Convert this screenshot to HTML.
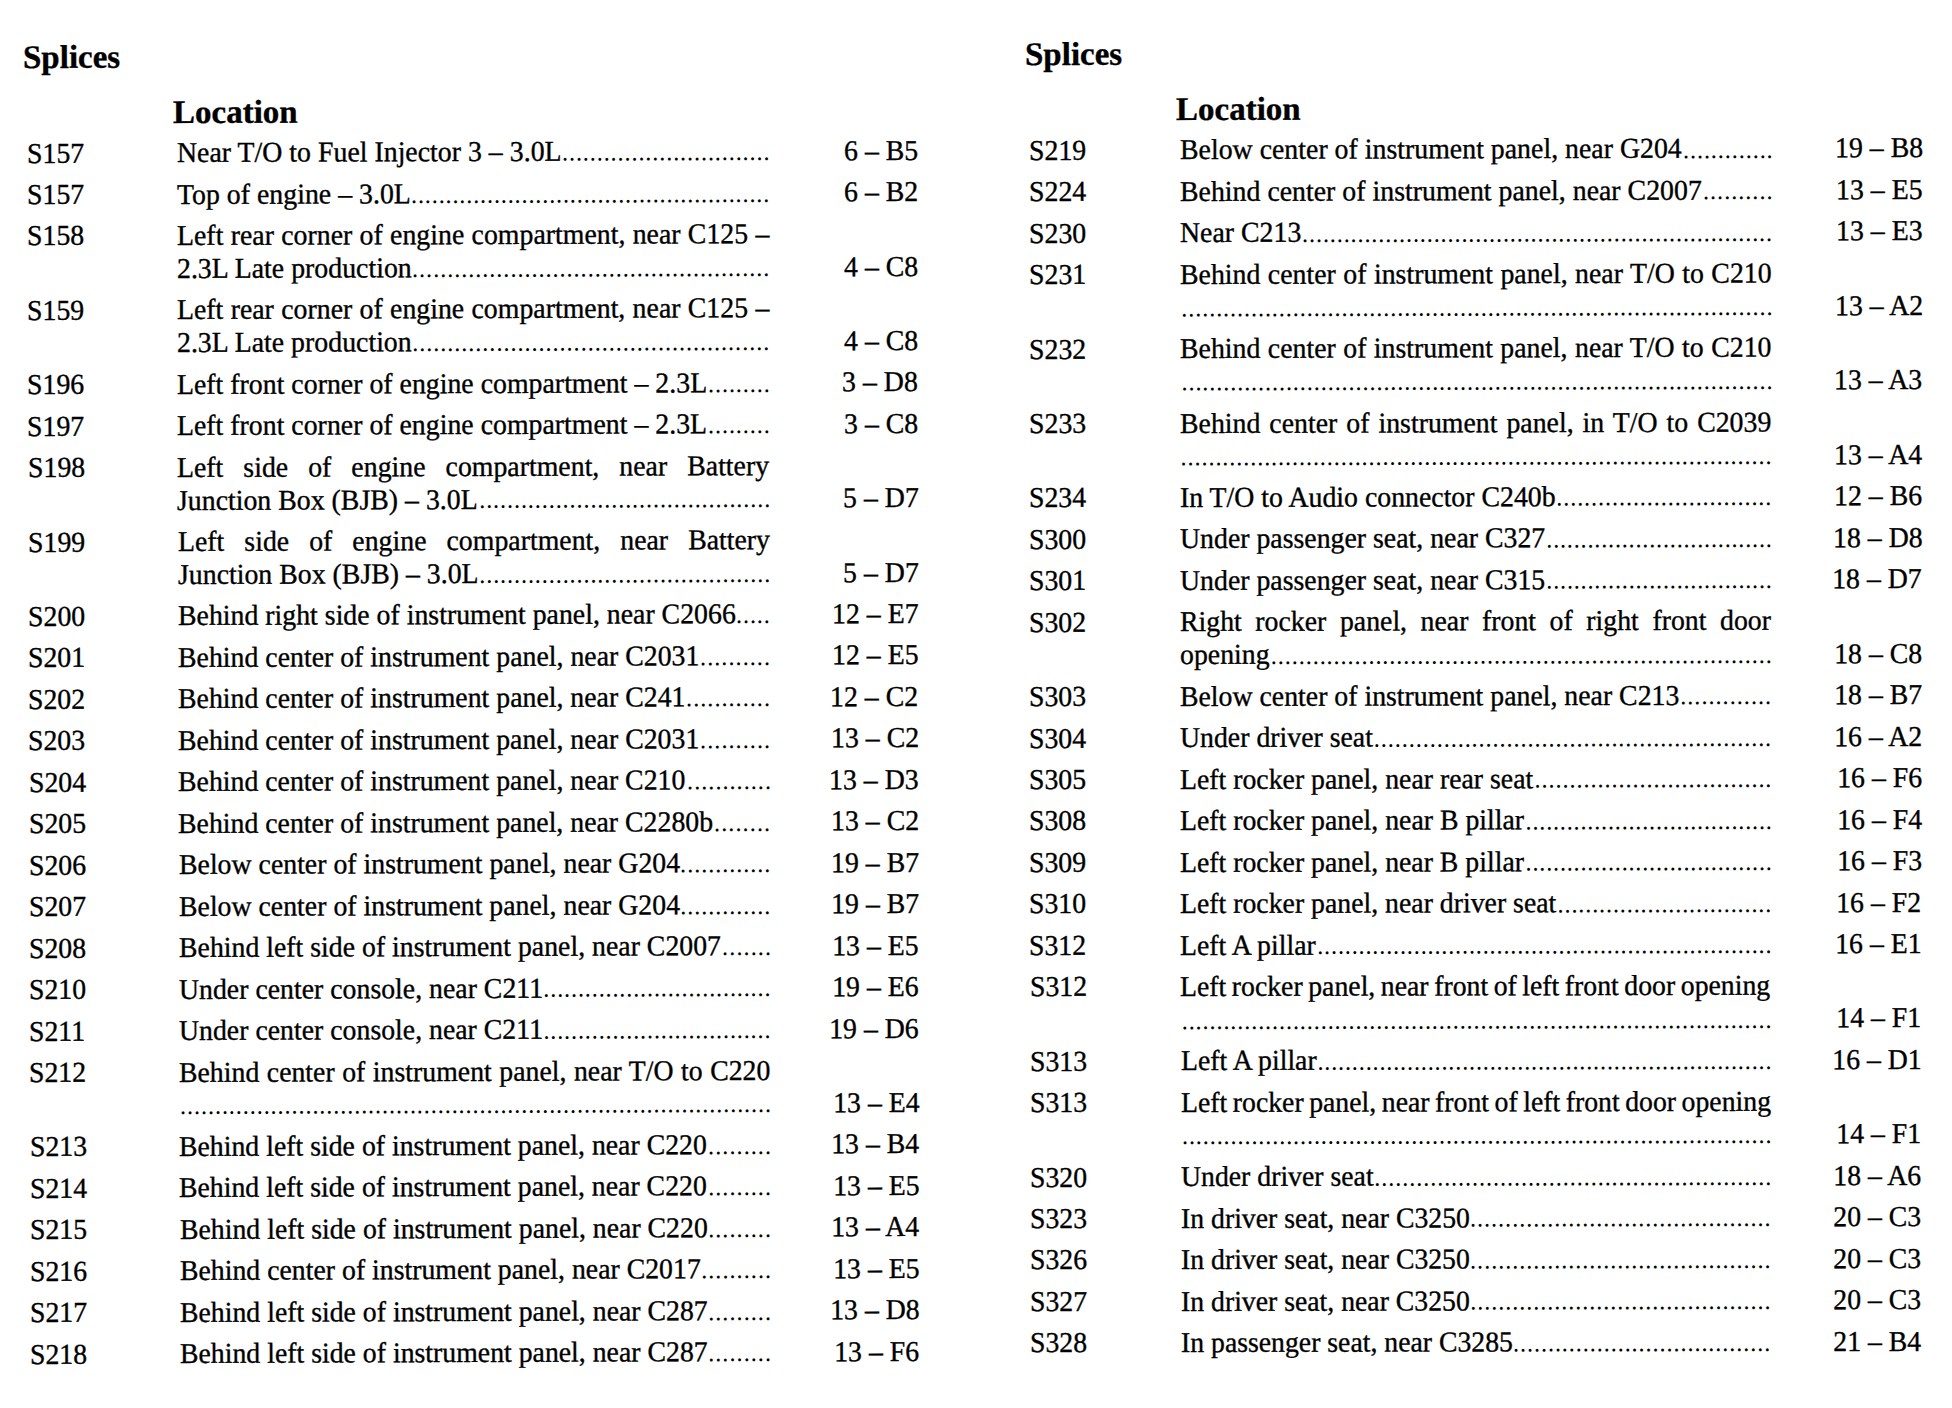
<!DOCTYPE html>
<html lang="en"><head><meta charset="utf-8"><title>Splices</title>
<style>
html,body{margin:0;padding:0;background:#fff;}
body{width:1952px;height:1408px;overflow:hidden;position:relative;color:#000;
 font-family:"Liberation Serif",serif;font-size:27.85px;line-height:1;-webkit-text-stroke:0.35px #000;text-rendering:geometricPrecision;}
.col{position:absolute;left:0;top:0;width:1952px;height:1408px;}
.col span{position:absolute;white-space:nowrap;transform-origin:0 23.32px;}
.col span.e{transform-origin:100% 23.32px;}
.h{font-weight:bold;font-size:33.0px;}
.col span.h{transform-origin:0 27.64px;}
.col span.d{font-size:24.5px;-webkit-text-stroke:0;transform-origin:100% 20.52px;}
</style></head><body>

<div class="col">
<span class="h" style="top:42.33px;left:23.11px;transform:rotate(-0.1752deg) scale(1.00019,1.0);">Splices</span>
<span class="h" style="top:97.36px;left:173.49px;transform:rotate(-0.1763deg) scale(1.00008,1.0);">Location</span>
<div class="row">
<span style="top:140.53px;left:26.60px;transform:rotate(-0.1770deg) scale(1.00000,1.03);">S157</span>
<span style="top:140.07px;left:176.50px;transform:rotate(-0.1770deg) scale(1.00000,1.03);">Near T/O to Fuel Injector 3 – 3.0L</span>
<span class="d e" style="top:141.04px;right:1181.68px;transform:rotate(-0.1770deg) scale(1.00000,1.03);letter-spacing:0.822px;">..............................</span>
<span class="r e" style="top:137.78px;right:1034.10px;transform:rotate(-0.1770deg) scale(1.00000,1.03);">6 – B5</span>
</div>
<div class="row">
<span style="top:182.00px;left:26.73px;transform:rotate(-0.1778deg) scale(0.99992,1.03);">S157</span>
<span style="top:181.53px;left:176.62px;transform:rotate(-0.1778deg) scale(0.99992,1.03);">Top of engine – 3.0L</span>
<span class="d e" style="top:182.50px;right:1181.65px;transform:rotate(-0.1778deg) scale(0.99992,1.03);letter-spacing:0.781px;">....................................................</span>
<span class="r e" style="top:179.23px;right:1034.04px;transform:rotate(-0.1778deg) scale(0.99992,1.03);">6 – B2</span>
</div>
<div class="row">
<span style="top:223.47px;left:26.86px;transform:rotate(-0.1786deg) scale(0.99984,1.03);">S158</span>
<span style="top:223.00px;left:176.73px;transform:rotate(-0.1786deg) scale(0.99984,1.03);word-spacing:0.328px;">Left rear corner of engine compartment, near C125 –</span>
<span style="top:255.90px;left:176.83px;transform:rotate(-0.1793deg) scale(0.99978,1.03);">2.3L Late production</span>
<span class="d e" style="top:256.85px;right:1181.41px;transform:rotate(-0.1793deg) scale(0.99978,1.03);letter-spacing:0.899px;">...................................................</span>
<span class="r e" style="top:253.58px;right:1033.94px;transform:rotate(-0.1793deg) scale(0.99978,1.03);">4 – C8</span>
</div>
<div class="row">
<span style="top:297.84px;left:27.09px;transform:rotate(-0.1800deg) scale(0.99970,1.03);">S159</span>
<span style="top:297.37px;left:176.95px;transform:rotate(-0.1800deg) scale(0.99970,1.03);word-spacing:0.328px;">Left rear corner of engine compartment, near C125 –</span>
<span style="top:330.27px;left:177.04px;transform:rotate(-0.1807deg) scale(0.99963,1.03);">2.3L Late production</span>
<span class="d e" style="top:331.20px;right:1181.29px;transform:rotate(-0.1807deg) scale(0.99963,1.03);letter-spacing:0.899px;">...................................................</span>
<span class="r e" style="top:327.93px;right:1033.84px;transform:rotate(-0.1807deg) scale(0.99963,1.03);">4 – C8</span>
</div>
<div class="row">
<span style="top:372.21px;left:27.32px;transform:rotate(-0.1815deg) scale(0.99955,1.03);">S196</span>
<span style="top:371.73px;left:177.16px;transform:rotate(-0.1815deg) scale(0.99955,1.03);">Left front corner of engine compartment – 2.3L</span>
<span class="d e" style="top:372.66px;right:1181.28px;transform:rotate(-0.1815deg) scale(0.99955,1.03);letter-spacing:0.832px;">.........</span>
<span class="r e" style="top:369.39px;right:1033.78px;transform:rotate(-0.1815deg) scale(0.99955,1.03);">3 – D8</span>
</div>
<div class="row">
<span style="top:413.68px;left:27.45px;transform:rotate(-0.1823deg) scale(0.99947,1.03);">S197</span>
<span style="top:413.20px;left:177.27px;transform:rotate(-0.1823deg) scale(0.99947,1.03);">Left front corner of engine compartment – 2.3L</span>
<span class="d e" style="top:414.12px;right:1181.21px;transform:rotate(-0.1823deg) scale(0.99947,1.03);letter-spacing:0.832px;">.........</span>
<span class="r e" style="top:410.85px;right:1033.72px;transform:rotate(-0.1823deg) scale(0.99947,1.03);">3 – C8</span>
</div>
<div class="row">
<span style="top:455.15px;left:27.58px;transform:rotate(-0.1831deg) scale(0.99939,1.03);">S198</span>
<span style="top:454.67px;left:177.39px;transform:rotate(-0.1831deg) scale(0.99939,1.03);word-spacing:13.060px;">Left side of engine compartment, near Battery</span>
<span style="top:487.57px;left:177.48px;transform:rotate(-0.1837deg) scale(0.99932,1.03);">Junction Box (BJB) – 3.0L</span>
<span class="d e" style="top:488.47px;right:1181.09px;transform:rotate(-0.1837deg) scale(0.99932,1.03);letter-spacing:0.830px;">..........................................</span>
<span class="r e" style="top:485.19px;right:1033.62px;transform:rotate(-0.1837deg) scale(0.99932,1.03);">5 – D7</span>
</div>
<div class="row">
<span style="top:529.52px;left:27.82px;transform:rotate(-0.1845deg) scale(0.99924,1.03);">S199</span>
<span style="top:529.04px;left:177.60px;transform:rotate(-0.1845deg) scale(0.99924,1.03);word-spacing:13.060px;">Left side of engine compartment, near Battery</span>
<span style="top:561.94px;left:177.69px;transform:rotate(-0.1851deg) scale(0.99918,1.03);">Junction Box (BJB) – 3.0L</span>
<span class="d e" style="top:562.82px;right:1180.97px;transform:rotate(-0.1851deg) scale(0.99918,1.03);letter-spacing:0.830px;">..........................................</span>
<span class="r e" style="top:559.54px;right:1033.52px;transform:rotate(-0.1851deg) scale(0.99918,1.03);">5 – D7</span>
</div>
<div class="row">
<span style="top:603.89px;left:28.05px;transform:rotate(-0.1859deg) scale(0.99910,1.03);">S200</span>
<span style="top:603.40px;left:177.81px;transform:rotate(-0.1859deg) scale(0.99910,1.03);">Behind right side of instrument panel, near C2066</span>
<span class="d e" style="top:604.28px;right:1180.92px;transform:rotate(-0.1859deg) scale(0.99910,1.03);letter-spacing:0.809px;">.....</span>
<span class="r e" style="top:601.00px;right:1033.46px;transform:rotate(-0.1859deg) scale(0.99910,1.03);">12 – E7</span>
</div>
<div class="row">
<span style="top:645.36px;left:28.18px;transform:rotate(-0.1867deg) scale(0.99901,1.03);">S201</span>
<span style="top:644.87px;left:177.93px;transform:rotate(-0.1867deg) scale(0.99901,1.03);">Behind center of instrument panel, near C2031</span>
<span class="d e" style="top:645.74px;right:1180.68px;transform:rotate(-0.1867deg) scale(0.99901,1.03);letter-spacing:0.983px;">..........</span>
<span class="r e" style="top:642.46px;right:1033.41px;transform:rotate(-0.1867deg) scale(0.99901,1.03);">12 – E5</span>
</div>
<div class="row">
<span style="top:686.83px;left:28.31px;transform:rotate(-0.1875deg) scale(0.99893,1.03);">S202</span>
<span style="top:686.34px;left:178.05px;transform:rotate(-0.1875deg) scale(0.99893,1.03);">Behind center of instrument panel, near C241</span>
<span class="d e" style="top:687.20px;right:1180.63px;transform:rotate(-0.1875deg) scale(0.99893,1.03);letter-spacing:0.958px;">............</span>
<span class="r e" style="top:683.92px;right:1033.35px;transform:rotate(-0.1875deg) scale(0.99893,1.03);">12 – C2</span>
</div>
<div class="row">
<span style="top:728.30px;left:28.44px;transform:rotate(-0.1883deg) scale(0.99885,1.03);">S203</span>
<span style="top:727.81px;left:178.16px;transform:rotate(-0.1883deg) scale(0.99885,1.03);">Behind center of instrument panel, near C2031</span>
<span class="d e" style="top:728.66px;right:1180.54px;transform:rotate(-0.1883deg) scale(0.99885,1.03);letter-spacing:0.983px;">..........</span>
<span class="r e" style="top:725.37px;right:1033.29px;transform:rotate(-0.1883deg) scale(0.99885,1.03);">13 – C2</span>
</div>
<div class="row">
<span style="top:769.77px;left:28.57px;transform:rotate(-0.1891deg) scale(0.99877,1.03);">S204</span>
<span style="top:769.28px;left:178.28px;transform:rotate(-0.1891deg) scale(0.99877,1.03);">Behind center of instrument panel, near C210</span>
<span class="d e" style="top:770.12px;right:1180.50px;transform:rotate(-0.1891deg) scale(0.99877,1.03);letter-spacing:0.958px;">............</span>
<span class="r e" style="top:766.83px;right:1033.24px;transform:rotate(-0.1891deg) scale(0.99877,1.03);">13 – D3</span>
</div>
<div class="row">
<span style="top:811.24px;left:28.70px;transform:rotate(-0.1899deg) scale(0.99869,1.03);">S205</span>
<span style="top:810.74px;left:178.40px;transform:rotate(-0.1899deg) scale(0.99869,1.03);">Behind center of instrument panel, near C2280b</span>
<span class="d e" style="top:811.58px;right:1180.37px;transform:rotate(-0.1899deg) scale(0.99869,1.03);letter-spacing:1.020px;">........</span>
<span class="r e" style="top:808.29px;right:1033.18px;transform:rotate(-0.1899deg) scale(0.99869,1.03);">13 – C2</span>
</div>
<div class="row">
<span style="top:852.71px;left:28.83px;transform:rotate(-0.1907deg) scale(0.99861,1.03);">S206</span>
<span style="top:852.21px;left:178.52px;transform:rotate(-0.1907deg) scale(0.99861,1.03);">Below center of instrument panel, near G204</span>
<span class="d e" style="top:853.04px;right:1180.43px;transform:rotate(-0.1907deg) scale(0.99861,1.03);letter-spacing:0.889px;">.............</span>
<span class="r e" style="top:849.75px;right:1033.12px;transform:rotate(-0.1907deg) scale(0.99861,1.03);">19 – B7</span>
</div>
<div class="row">
<span style="top:894.18px;left:28.95px;transform:rotate(-0.1915deg) scale(0.99853,1.03);">S207</span>
<span style="top:893.68px;left:178.63px;transform:rotate(-0.1915deg) scale(0.99853,1.03);">Below center of instrument panel, near G204</span>
<span class="d e" style="top:894.50px;right:1180.36px;transform:rotate(-0.1915deg) scale(0.99853,1.03);letter-spacing:0.889px;">.............</span>
<span class="r e" style="top:891.21px;right:1033.06px;transform:rotate(-0.1915deg) scale(0.99853,1.03);">19 – B7</span>
</div>
<div class="row">
<span style="top:935.65px;left:29.08px;transform:rotate(-0.1923deg) scale(0.99844,1.03);">S208</span>
<span style="top:935.15px;left:178.75px;transform:rotate(-0.1923deg) scale(0.99844,1.03);">Behind left side of instrument panel, near C2007</span>
<span class="d e" style="top:935.96px;right:1180.14px;transform:rotate(-0.1923deg) scale(0.99844,1.03);letter-spacing:1.040px;">.......</span>
<span class="r e" style="top:932.66px;right:1033.01px;transform:rotate(-0.1923deg) scale(0.99844,1.03);">13 – E5</span>
</div>
<div class="row">
<span style="top:977.12px;left:29.21px;transform:rotate(-0.1930deg) scale(0.99836,1.03);">S210</span>
<span style="top:976.62px;left:178.87px;transform:rotate(-0.1930deg) scale(0.99836,1.03);">Under center console, near C211</span>
<span class="d e" style="top:977.42px;right:1180.31px;transform:rotate(-0.1930deg) scale(0.99836,1.03);letter-spacing:0.794px;">.................................</span>
<span class="r e" style="top:974.12px;right:1032.95px;transform:rotate(-0.1930deg) scale(0.99836,1.03);">19 – E6</span>
</div>
<div class="row">
<span style="top:1018.59px;left:29.34px;transform:rotate(-0.1938deg) scale(0.99828,1.03);">S211</span>
<span style="top:1018.08px;left:178.98px;transform:rotate(-0.1938deg) scale(0.99828,1.03);">Under center console, near C211</span>
<span class="d e" style="top:1018.88px;right:1180.25px;transform:rotate(-0.1938deg) scale(0.99828,1.03);letter-spacing:0.794px;">.................................</span>
<span class="r e" style="top:1015.58px;right:1032.89px;transform:rotate(-0.1938deg) scale(0.99828,1.03);">19 – D6</span>
</div>
<div class="row">
<span style="top:1060.06px;left:29.47px;transform:rotate(-0.1946deg) scale(0.99820,1.03);">S212</span>
<span style="top:1059.55px;left:179.10px;transform:rotate(-0.1946deg) scale(0.99820,1.03);word-spacing:0.570px;">Behind center of instrument panel, near T/O to C220</span>
<span class="d e" style="top:1093.24px;right:1180.06px;transform:rotate(-0.1953deg) scale(0.99813,1.03);letter-spacing:0.851px;">.....................................................................................</span>
<span class="r e" style="top:1089.93px;right:1032.79px;transform:rotate(-0.1953deg) scale(0.99813,1.03);">13 – E4</span>
</div>
<div class="row">
<span style="top:1134.43px;left:29.71px;transform:rotate(-0.1961deg) scale(0.99805,1.03);">S213</span>
<span style="top:1133.92px;left:179.31px;transform:rotate(-0.1961deg) scale(0.99805,1.03);">Behind left side of instrument panel, near C220</span>
<span class="d e" style="top:1134.69px;right:1179.85px;transform:rotate(-0.1961deg) scale(0.99805,1.03);letter-spacing:0.995px;">.........</span>
<span class="r e" style="top:1131.39px;right:1032.74px;transform:rotate(-0.1961deg) scale(0.99805,1.03);">13 – B4</span>
</div>
<div class="row">
<span style="top:1175.90px;left:29.83px;transform:rotate(-0.1969deg) scale(0.99797,1.03);">S214</span>
<span style="top:1175.39px;left:179.43px;transform:rotate(-0.1969deg) scale(0.99797,1.03);">Behind left side of instrument panel, near C220</span>
<span class="d e" style="top:1176.15px;right:1179.78px;transform:rotate(-0.1969deg) scale(0.99797,1.03);letter-spacing:0.995px;">.........</span>
<span class="r e" style="top:1172.84px;right:1032.68px;transform:rotate(-0.1969deg) scale(0.99797,1.03);">13 – E5</span>
</div>
<div class="row">
<span style="top:1217.37px;left:29.96px;transform:rotate(-0.1977deg) scale(0.99789,1.03);">S215</span>
<span style="top:1216.85px;left:179.55px;transform:rotate(-0.1977deg) scale(0.99789,1.03);">Behind left side of instrument panel, near C220</span>
<span class="d e" style="top:1217.61px;right:1179.71px;transform:rotate(-0.1977deg) scale(0.99789,1.03);letter-spacing:0.995px;">.........</span>
<span class="r e" style="top:1214.30px;right:1032.62px;transform:rotate(-0.1977deg) scale(0.99789,1.03);">13 – A4</span>
</div>
<div class="row">
<span style="top:1258.84px;left:30.09px;transform:rotate(-0.1984deg) scale(0.99781,1.03);">S216</span>
<span style="top:1258.32px;left:179.66px;transform:rotate(-0.1984deg) scale(0.99781,1.03);">Behind center of instrument panel, near C2017</span>
<span class="d e" style="top:1259.07px;right:1179.66px;transform:rotate(-0.1984deg) scale(0.99781,1.03);letter-spacing:0.983px;">..........</span>
<span class="r e" style="top:1255.76px;right:1032.56px;transform:rotate(-0.1984deg) scale(0.99781,1.03);">13 – E5</span>
</div>
<div class="row">
<span style="top:1300.31px;left:30.22px;transform:rotate(-0.1992deg) scale(0.99773,1.03);">S217</span>
<span style="top:1299.79px;left:179.78px;transform:rotate(-0.1992deg) scale(0.99773,1.03);">Behind left side of instrument panel, near C287</span>
<span class="d e" style="top:1300.53px;right:1179.58px;transform:rotate(-0.1992deg) scale(0.99773,1.03);letter-spacing:0.995px;">.........</span>
<span class="r e" style="top:1297.22px;right:1032.51px;transform:rotate(-0.1992deg) scale(0.99773,1.03);">13 – D8</span>
</div>
<div class="row">
<span style="top:1341.78px;left:30.35px;transform:rotate(-0.2000deg) scale(0.99765,1.03);">S218</span>
<span style="top:1341.26px;left:179.90px;transform:rotate(-0.2000deg) scale(0.99765,1.03);">Behind left side of instrument panel, near C287</span>
<span class="d e" style="top:1341.99px;right:1179.51px;transform:rotate(-0.2000deg) scale(0.99765,1.03);letter-spacing:0.995px;">.........</span>
<span class="r e" style="top:1338.68px;right:1032.45px;transform:rotate(-0.2000deg) scale(0.99765,1.03);">13 – F6</span>
</div>
</div>
<div class="col">
<span class="h" style="top:39.32px;left:1024.90px;transform:rotate(-0.1473deg) scale(1.00032,1.0);">Splices</span>
<span class="h" style="top:94.24px;left:1176.28px;transform:rotate(-0.1456deg) scale(1.00013,1.0);">Location</span>
<div class="row">
<span style="top:137.73px;left:1028.60px;transform:rotate(-0.1444deg) scale(1.00000,1.03);">S219</span>
<span style="top:137.35px;left:1180.00px;transform:rotate(-0.1444deg) scale(1.00000,1.03);">Below center of instrument panel, near G204</span>
<span class="d e" style="top:138.66px;right:178.76px;transform:rotate(-0.1444deg) scale(1.00000,1.03);letter-spacing:0.843px;">.............</span>
<span class="r e" style="top:135.48px;right:29.00px;transform:rotate(-0.1444deg) scale(1.00000,1.03);">19 – B8</span>
</div>
<div class="row">
<span style="top:179.20px;left:1028.65px;transform:rotate(-0.1430deg) scale(0.99986,1.03);">S224</span>
<span style="top:178.82px;left:1180.02px;transform:rotate(-0.1430deg) scale(0.99986,1.03);">Behind center of instrument panel, near C2007</span>
<span class="d e" style="top:180.15px;right:178.74px;transform:rotate(-0.1430deg) scale(0.99986,1.03);letter-spacing:0.923px;">..........</span>
<span class="r e" style="top:176.97px;right:29.08px;transform:rotate(-0.1430deg) scale(0.99986,1.03);">13 – E5</span>
</div>
<div class="row">
<span style="top:220.67px;left:1028.69px;transform:rotate(-0.1417deg) scale(0.99973,1.03);">S230</span>
<span style="top:220.29px;left:1180.05px;transform:rotate(-0.1417deg) scale(0.99973,1.03);">Near C213</span>
<span class="d e" style="top:221.63px;right:178.91px;transform:rotate(-0.1417deg) scale(0.99973,1.03);letter-spacing:0.801px;">....................................................................</span>
<span class="r e" style="top:218.46px;right:29.16px;transform:rotate(-0.1417deg) scale(0.99973,1.03);">13 – E3</span>
</div>
<div class="row">
<span style="top:262.14px;left:1028.74px;transform:rotate(-0.1404deg) scale(0.99959,1.03);">S231</span>
<span style="top:261.77px;left:1180.07px;transform:rotate(-0.1404deg) scale(0.99959,1.03);word-spacing:0.495px;">Behind center of instrument panel, near T/O to C210</span>
<span class="d e" style="top:296.03px;right:178.97px;transform:rotate(-0.1393deg) scale(0.99948,1.03);letter-spacing:0.844px;">.....................................................................................</span>
<span class="r e" style="top:292.86px;right:29.30px;transform:rotate(-0.1393deg) scale(0.99948,1.03);">13 – A2</span>
</div>
<div class="row">
<span style="top:336.51px;left:1028.82px;transform:rotate(-0.1380deg) scale(0.99934,1.03);">S232</span>
<span style="top:336.14px;left:1180.12px;transform:rotate(-0.1380deg) scale(0.99934,1.03);word-spacing:0.495px;">Behind center of instrument panel, near T/O to C210</span>
<span class="d e" style="top:370.44px;right:179.08px;transform:rotate(-0.1370deg) scale(0.99923,1.03);letter-spacing:0.844px;">.....................................................................................</span>
<span class="r e" style="top:367.27px;right:29.44px;transform:rotate(-0.1370deg) scale(0.99923,1.03);">13 – A3</span>
</div>
<div class="row">
<span style="top:410.88px;left:1028.90px;transform:rotate(-0.1357deg) scale(0.99909,1.03);">S233</span>
<span style="top:410.52px;left:1180.16px;transform:rotate(-0.1357deg) scale(0.99909,1.03);word-spacing:2.036px;">Behind center of instrument panel, in T/O to C2039</span>
<span class="d e" style="top:444.84px;right:179.18px;transform:rotate(-0.1346deg) scale(0.99898,1.03);letter-spacing:0.844px;">.....................................................................................</span>
<span class="r e" style="top:441.68px;right:29.58px;transform:rotate(-0.1346deg) scale(0.99898,1.03);">13 – A4</span>
</div>
<div class="row">
<span style="top:485.25px;left:1028.98px;transform:rotate(-0.1333deg) scale(0.99884,1.03);">S234</span>
<span style="top:484.90px;left:1180.20px;transform:rotate(-0.1333deg) scale(0.99884,1.03);">In T/O to Audio connector C240b</span>
<span class="d e" style="top:486.32px;right:179.23px;transform:rotate(-0.1333deg) scale(0.99884,1.03);letter-spacing:0.852px;">...............................</span>
<span class="r e" style="top:483.17px;right:29.66px;transform:rotate(-0.1333deg) scale(0.99884,1.03);">12 – B6</span>
</div>
<div class="row">
<span style="top:526.72px;left:1029.03px;transform:rotate(-0.1320deg) scale(0.99871,1.03);">S300</span>
<span style="top:526.37px;left:1180.23px;transform:rotate(-0.1320deg) scale(0.99871,1.03);">Under passenger seat, near C327</span>
<span class="d e" style="top:527.81px;right:179.40px;transform:rotate(-0.1320deg) scale(0.99871,1.03);letter-spacing:0.744px;">.................................</span>
<span class="r e" style="top:524.66px;right:29.73px;transform:rotate(-0.1320deg) scale(0.99871,1.03);">18 – D8</span>
</div>
<div class="row">
<span style="top:568.19px;left:1029.07px;transform:rotate(-0.1306deg) scale(0.99857,1.03);">S301</span>
<span style="top:567.84px;left:1180.25px;transform:rotate(-0.1306deg) scale(0.99857,1.03);">Under passenger seat, near C315</span>
<span class="d e" style="top:569.30px;right:179.45px;transform:rotate(-0.1306deg) scale(0.99857,1.03);letter-spacing:0.744px;">.................................</span>
<span class="r e" style="top:566.15px;right:29.81px;transform:rotate(-0.1306deg) scale(0.99857,1.03);">18 – D7</span>
</div>
<div class="row">
<span style="top:609.66px;left:1029.12px;transform:rotate(-0.1293deg) scale(0.99843,1.03);">S302</span>
<span style="top:609.32px;left:1180.28px;transform:rotate(-0.1293deg) scale(0.99843,1.03);word-spacing:6.622px;">Right rocker panel, near front of right front door</span>
<span style="top:642.22px;left:1180.30px;transform:rotate(-0.1283deg) scale(0.99832,1.03);">opening</span>
<span class="d e" style="top:643.70px;right:179.44px;transform:rotate(-0.1283deg) scale(0.99832,1.03);letter-spacing:0.857px;">........................................................................</span>
<span class="r e" style="top:640.56px;right:29.95px;transform:rotate(-0.1283deg) scale(0.99832,1.03);">18 – C8</span>
</div>
<div class="row">
<span style="top:684.03px;left:1029.20px;transform:rotate(-0.1269deg) scale(0.99818,1.03);">S303</span>
<span style="top:683.69px;left:1180.32px;transform:rotate(-0.1269deg) scale(0.99818,1.03);">Below center of instrument panel, near C213</span>
<span class="d e" style="top:685.19px;right:179.40px;transform:rotate(-0.1269deg) scale(0.99818,1.03);letter-spacing:0.962px;">.............</span>
<span class="r e" style="top:682.05px;right:30.03px;transform:rotate(-0.1269deg) scale(0.99818,1.03);">18 – B7</span>
</div>
<div class="row">
<span style="top:725.50px;left:1029.24px;transform:rotate(-0.1256deg) scale(0.99804,1.03);">S304</span>
<span style="top:725.17px;left:1180.35px;transform:rotate(-0.1256deg) scale(0.99804,1.03);">Under driver seat</span>
<span class="d e" style="top:726.67px;right:179.54px;transform:rotate(-0.1256deg) scale(0.99804,1.03);letter-spacing:0.877px;">.........................................................</span>
<span class="r e" style="top:723.54px;right:30.11px;transform:rotate(-0.1256deg) scale(0.99804,1.03);">16 – A2</span>
</div>
<div class="row">
<span style="top:766.97px;left:1029.29px;transform:rotate(-0.1243deg) scale(0.99790,1.03);">S305</span>
<span style="top:766.64px;left:1180.37px;transform:rotate(-0.1243deg) scale(0.99790,1.03);">Left rocker panel, near rear seat</span>
<span class="d e" style="top:768.16px;right:179.59px;transform:rotate(-0.1243deg) scale(0.99790,1.03);letter-spacing:0.886px;">..................................</span>
<span class="r e" style="top:765.03px;right:30.19px;transform:rotate(-0.1243deg) scale(0.99790,1.03);">16 – F6</span>
</div>
<div class="row">
<span style="top:808.44px;left:1029.33px;transform:rotate(-0.1230deg) scale(0.99777,1.03);">S308</span>
<span style="top:808.11px;left:1180.40px;transform:rotate(-0.1230deg) scale(0.99777,1.03);">Left rocker panel, near B pillar</span>
<span class="d e" style="top:809.65px;right:179.78px;transform:rotate(-0.1230deg) scale(0.99777,1.03);letter-spacing:0.753px;">....................................</span>
<span class="r e" style="top:806.52px;right:30.27px;transform:rotate(-0.1230deg) scale(0.99777,1.03);">16 – F4</span>
</div>
<div class="row">
<span style="top:849.91px;left:1029.38px;transform:rotate(-0.1217deg) scale(0.99763,1.03);">S309</span>
<span style="top:849.59px;left:1180.42px;transform:rotate(-0.1217deg) scale(0.99763,1.03);">Left rocker panel, near B pillar</span>
<span class="d e" style="top:851.14px;right:179.84px;transform:rotate(-0.1217deg) scale(0.99763,1.03);letter-spacing:0.753px;">....................................</span>
<span class="r e" style="top:848.01px;right:30.34px;transform:rotate(-0.1217deg) scale(0.99763,1.03);">16 – F3</span>
</div>
<div class="row">
<span style="top:891.38px;left:1029.42px;transform:rotate(-0.1203deg) scale(0.99749,1.03);">S310</span>
<span style="top:891.06px;left:1180.44px;transform:rotate(-0.1203deg) scale(0.99749,1.03);">Left rocker panel, near driver seat</span>
<span class="d e" style="top:892.62px;right:179.83px;transform:rotate(-0.1203deg) scale(0.99749,1.03);letter-spacing:0.816px;">...............................</span>
<span class="r e" style="top:889.50px;right:30.42px;transform:rotate(-0.1203deg) scale(0.99749,1.03);">16 – F2</span>
</div>
<div class="row">
<span style="top:932.85px;left:1029.47px;transform:rotate(-0.1190deg) scale(0.99735,1.03);">S312</span>
<span style="top:932.53px;left:1180.47px;transform:rotate(-0.1190deg) scale(0.99735,1.03);">Left A pillar</span>
<span class="d e" style="top:934.11px;right:179.92px;transform:rotate(-0.1190deg) scale(0.99735,1.03);letter-spacing:0.789px;">..................................................................</span>
<span class="r e" style="top:931.00px;right:30.50px;transform:rotate(-0.1190deg) scale(0.99735,1.03);">16 – E1</span>
</div>
<div class="row">
<span style="top:974.32px;left:1029.52px;transform:rotate(-0.1177deg) scale(0.99721,1.03);">S312</span>
<span style="top:974.01px;left:1180.49px;transform:rotate(-0.1177deg) scale(0.99721,1.03);word-spacing:-1.410px;">Left rocker panel, near front of left front door opening</span>
<span class="d e" style="top:1008.51px;right:179.96px;transform:rotate(-0.1166deg) scale(0.99710,1.03);letter-spacing:0.844px;">.....................................................................................</span>
<span class="r e" style="top:1005.40px;right:30.64px;transform:rotate(-0.1166deg) scale(0.99710,1.03);">14 – F1</span>
</div>
<div class="row">
<span style="top:1048.69px;left:1029.60px;transform:rotate(-0.1153deg) scale(0.99696,1.03);">S313</span>
<span style="top:1048.38px;left:1180.54px;transform:rotate(-0.1153deg) scale(0.99696,1.03);">Left A pillar</span>
<span class="d e" style="top:1050.00px;right:180.08px;transform:rotate(-0.1153deg) scale(0.99696,1.03);letter-spacing:0.789px;">..................................................................</span>
<span class="r e" style="top:1046.89px;right:30.72px;transform:rotate(-0.1153deg) scale(0.99696,1.03);">16 – D1</span>
</div>
<div class="row">
<span style="top:1090.16px;left:1029.64px;transform:rotate(-0.1140deg) scale(0.99683,1.03);">S313</span>
<span style="top:1089.86px;left:1180.56px;transform:rotate(-0.1140deg) scale(0.99683,1.03);word-spacing:-1.410px;">Left rocker panel, near front of left front door opening</span>
<span class="d e" style="top:1124.40px;right:180.12px;transform:rotate(-0.1129deg) scale(0.99672,1.03);letter-spacing:0.844px;">.....................................................................................</span>
<span class="r e" style="top:1121.30px;right:30.86px;transform:rotate(-0.1129deg) scale(0.99672,1.03);">14 – F1</span>
</div>
<div class="row">
<span style="top:1164.53px;left:1029.72px;transform:rotate(-0.1116deg) scale(0.99658,1.03);">S320</span>
<span style="top:1164.23px;left:1180.61px;transform:rotate(-0.1116deg) scale(0.99658,1.03);">Under driver seat</span>
<span class="d e" style="top:1165.89px;right:180.15px;transform:rotate(-0.1116deg) scale(0.99658,1.03);letter-spacing:0.877px;">.........................................................</span>
<span class="r e" style="top:1162.79px;right:30.94px;transform:rotate(-0.1116deg) scale(0.99658,1.03);">18 – A6</span>
</div>
<div class="row">
<span style="top:1206.00px;left:1029.77px;transform:rotate(-0.1103deg) scale(0.99644,1.03);">S323</span>
<span style="top:1205.71px;left:1180.63px;transform:rotate(-0.1103deg) scale(0.99644,1.03);">In driver seat, near C3250</span>
<span class="d e" style="top:1207.38px;right:180.18px;transform:rotate(-0.1103deg) scale(0.99644,1.03);letter-spacing:0.909px;">...........................................</span>
<span class="r e" style="top:1204.28px;right:31.02px;transform:rotate(-0.1103deg) scale(0.99644,1.03);">20 – C3</span>
</div>
<div class="row">
<span style="top:1247.47px;left:1029.81px;transform:rotate(-0.1089deg) scale(0.99630,1.03);">S326</span>
<span style="top:1247.18px;left:1180.65px;transform:rotate(-0.1089deg) scale(0.99630,1.03);">In driver seat, near C3250</span>
<span class="d e" style="top:1248.86px;right:180.23px;transform:rotate(-0.1089deg) scale(0.99630,1.03);letter-spacing:0.909px;">...........................................</span>
<span class="r e" style="top:1245.77px;right:31.10px;transform:rotate(-0.1089deg) scale(0.99630,1.03);">20 – C3</span>
</div>
<div class="row">
<span style="top:1288.94px;left:1029.86px;transform:rotate(-0.1076deg) scale(0.99616,1.03);">S327</span>
<span style="top:1288.65px;left:1180.68px;transform:rotate(-0.1076deg) scale(0.99616,1.03);">In driver seat, near C3250</span>
<span class="d e" style="top:1290.35px;right:180.29px;transform:rotate(-0.1076deg) scale(0.99616,1.03);letter-spacing:0.909px;">...........................................</span>
<span class="r e" style="top:1287.26px;right:31.17px;transform:rotate(-0.1076deg) scale(0.99616,1.03);">20 – C3</span>
</div>
<div class="row">
<span style="top:1330.41px;left:1029.91px;transform:rotate(-0.1063deg) scale(0.99602,1.03);">S328</span>
<span style="top:1330.13px;left:1180.70px;transform:rotate(-0.1063deg) scale(0.99602,1.03);">In passenger seat, near C3285</span>
<span class="d e" style="top:1331.84px;right:180.38px;transform:rotate(-0.1063deg) scale(0.99602,1.03);letter-spacing:0.879px;">.....................................</span>
<span class="r e" style="top:1328.76px;right:31.25px;transform:rotate(-0.1063deg) scale(0.99602,1.03);">21 – B4</span>
</div>
</div>
</body></html>
